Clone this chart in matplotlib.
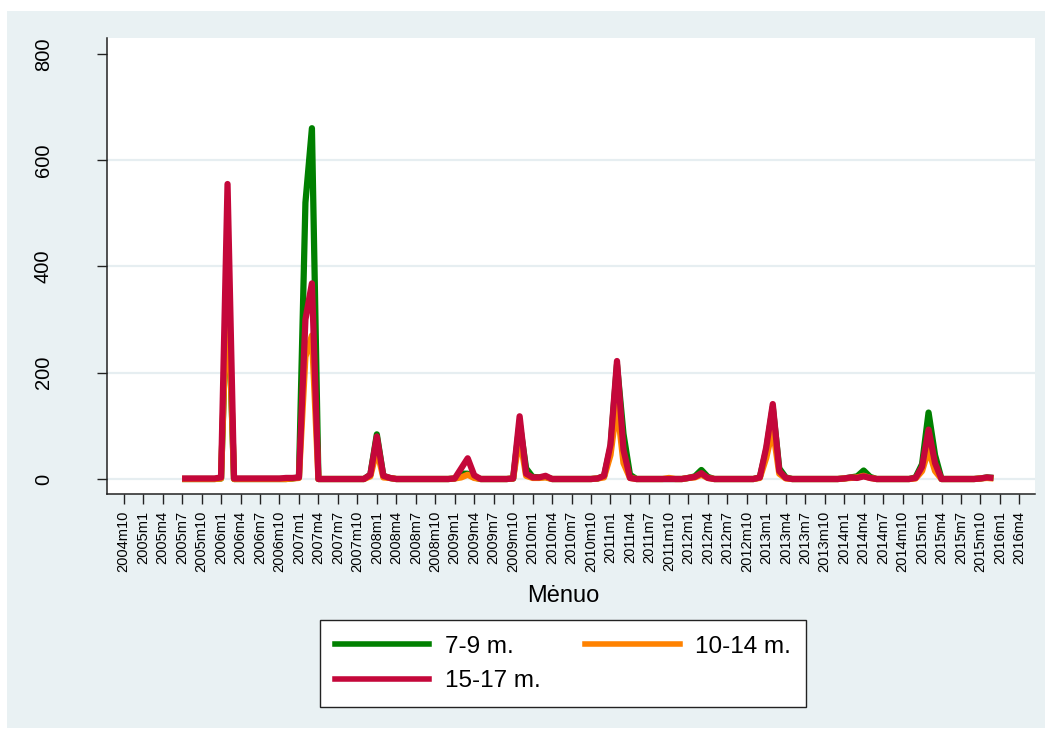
import matplotlib
matplotlib.use("Agg")
import matplotlib.pyplot as plt
from matplotlib.patches import Rectangle
from matplotlib.lines import Line2D

plt.rcParams['font.family'] = ['Liberation Sans', 'DejaVu Sans']

# Monthly series, 2005m7 .. 2015m12 (Stata %tm month numbers)
start_month = 546          # 2005m7
green_vals = [  # 7-9 m.
    0, 0, 0, 0, 0, 0, 1, 380, 0, 0, 0, 0, 0, 0, 0, 0, 0, 1, 3, 520, 660, 0, 0, 0,
    0, 0, 0, 0, 0, 8, 84, 6, 2, 0, 0, 0, 0, 0, 0, 0, 0, 0, 1, 10, 10, 3, 0, 0,
    0, 0, 0, 1, 105, 20, 4, 3, 4, 0, 0, 0, 0, 0, 0, 0, 1, 5, 60, 215, 85, 8,
    0, 0, 0, 0, 0, 0, 0, 0, 2, 5, 17, 4, 0, 0, 0, 0, 0, 0, 0, 3, 55, 135,
    20, 3, 0, 0, 0, 0, 0, 0, 0, 0, 1, 3, 5, 16, 4, 0, 0, 0, 0, 0, 0, 3,
    28, 125, 45, 0, 0, 0, 0, 0, 0, 1, 3, 2]
orange_vals = [  # 10-14 m.
    0, 0, 0, 0, 0, 0, 1, 390, 0, 0, 0, 0, 0, 0, 0, 0, 0, 1, 2, 230, 270, 0, 0, 0,
    0, 0, 0, 0, 0, 5, 55, 3, 2, 0, 0, 0, 0, 0, 0, 0, 0, 0, 1, 3, 8, 2, 0, 0,
    0, 0, 0, 1, 80, 6, 2, 2, 3, 0, 0, 0, 0, 0, 0, 0, 1, 3, 45, 140, 30, 2,
    0, 0, 0, 0, 0, 2, 0, 0, 2, 3, 8, 2, 0, 0, 0, 0, 0, 0, 0, 2, 40, 95,
    10, 1, 0, 0, 0, 0, 0, 0, 0, 0, 1, 2, 3, 6, 2, 0, 0, 0, 0, 0, 0, 1,
    15, 55, 15, 0, 0, 0, 0, 0, 0, 1, 2, 1]
red_vals = [  # 15-17 m.
    1, 1, 1, 1, 1, 1, 3, 555, 1, 1, 1, 1, 1, 1, 1, 1, 2, 2, 3, 300, 368, 0, 0, 0,
    0, 0, 0, 0, 0, 8, 80, 6, 2, 0, 0, 0, 0, 0, 0, 0, 0, 0, 1, 20, 39, 7, 0, 0,
    0, 0, 0, 1, 118, 10, 3, 3, 6, 0, 0, 0, 0, 0, 0, 0, 1, 6, 65, 222, 55, 2,
    0, 0, 0, 0, 0, 0, 0, 0, 2, 4, 11, 2, 0, 0, 0, 0, 0, 0, 0, 3, 60, 141,
    15, 2, 0, 0, 0, 0, 0, 0, 0, 0, 1, 3, 2, 5, 2, 0, 0, 0, 0, 0, 0, 2,
    23, 93, 30, 0, 0, 0, 0, 0, 0, 1, 3, 2]
series_labels = ["7-9 m.", "10-14 m.", "15-17 m."]
series_colors = ["#008000", "#FF8200", "#C4073A"]

x_ticks = list(range(537, 676, 3))          # 2004m10 .. 2016m4, quarterly
y_ticks = [0, 200, 400, 600, 800]
x_title = "Mėnuo"


def tm_label(m):
    return f"{1960 + m // 12}m{m % 12 + 1}"


months = [start_month + i for i in range(len(red_vals))]

W, H = 1052, 734
BG = "#E9F1F3"
fig = plt.figure(figsize=(W / 100, H / 100), dpi=100)
fig.patches.append(Rectangle((7 / W, 1 - 728 / H), (1045 - 7) / W, (728 - 11) / H,
                             transform=fig.transFigure, facecolor=BG,
                             edgecolor="none", zorder=-10))

ax = fig.add_axes([107 / W, 1 - 494 / H, (1035 - 107) / W, (494 - 38) / H])
ax.set_facecolor("white")

for vals, lab, col in zip([green_vals, orange_vals, red_vals], series_labels, series_colors):
    ax.plot(months, vals, color=col, lw=4.5, label=lab,
            solid_joinstyle="round", solid_capstyle="butt", zorder=3)

ax.set_xlim(534.43, 677.4)
ax.set_ylim(-28.2, 829.7)

ax.set_yticks(y_ticks)
ax.set_yticklabels([str(v) for v in y_ticks])
ax.set_xticks(x_ticks)
ax.set_xticklabels([tm_label(m) for m in x_ticks])

for v in y_ticks[:-1]:
    ax.axhline(v, color="#E6EEF1", lw=1.6, zorder=1)

for side in ("top", "right"):
    ax.spines[side].set_visible(False)
for side in ("left", "bottom"):
    ax.spines[side].set_color("#222222")
    ax.spines[side].set_linewidth(1.1)

ax.tick_params(axis="y", direction="out", length=7, width=1.0, color="#222222",
               labelsize=14.5, pad=32, labelrotation=90)
for t in ax.get_yticklabels():
    t.set_va("center")
ax.tick_params(axis="x", direction="out", length=7, width=1.0, color="#222222",
               labelsize=10.5, pad=5, labelrotation=90)

ax.set_xlabel(x_title, fontsize=17)
ax.xaxis.set_label_coords((563.3 - 107) / 928, (494 - 596) / 456)
ax.xaxis.label.set_va("center")

# legend filled row by row: (7-9, 10-14) / (15-17)
order = [0, 2, 1]
handles = [Line2D([], [], color=series_colors[i], lw=4.0) for i in order]
labels = [series_labels[i] for i in order]
leg = fig.legend(handles, labels, loc="center", ncol=2,
                 bbox_to_anchor=(562.9 / W, 1 - 663.9 / H),
                 fontsize=17.5, frameon=True, fancybox=False,
                 handlelength=3.9, handletextpad=0.65, columnspacing=1.8,
                 borderpad=0.62, labelspacing=0.52)
leg.get_frame().set_edgecolor("#222222")
leg.get_frame().set_linewidth(1.0)
leg.get_frame().set_alpha(1)

fig.savefig("out.png", dpi=100)
